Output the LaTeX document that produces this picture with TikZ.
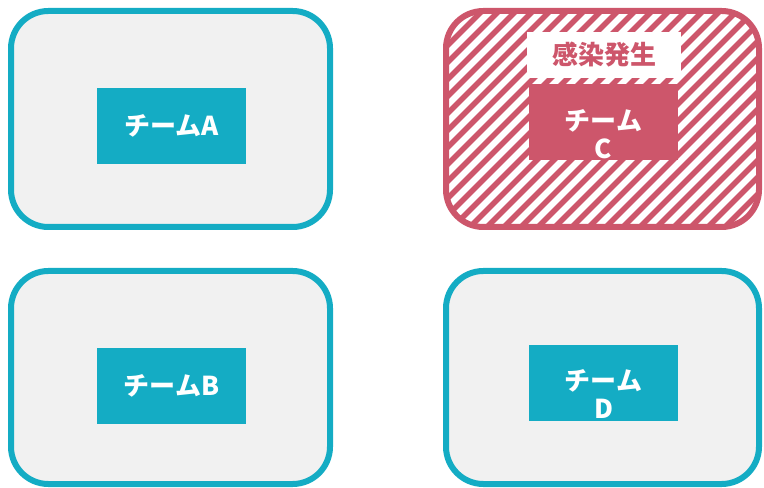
\documentclass[tikz,border=0pt]{standalone}
\usepackage{fontspec}
\setmainfont{Noto Sans CJK JP}
\definecolor{teal1}{HTML}{14ACC4}
\definecolor{pink1}{HTML}{CD566B}
\definecolor{bg1}{HTML}{F1F1F1}
\tikzset{
  frame/.style={line width=4.5pt, rounded corners=28pt},
  teambox/.style={fill=teal1, text=white, font=\bfseries\fontsize{19.5}{21}\selectfont,
    minimum width=111.75pt, minimum height=57pt, inner sep=0pt, align=center},
  alertbox/.style={teambox, fill=pink1},
  teamtext/.style={text=white, font=\bfseries\fontsize{19.5}{21}\selectfont,
    inner sep=0pt, align=center},
  labelbox/.style={fill=white, text=pink1, font=\bfseries\fontsize{19.5}{21}\selectfont,
    minimum width=115.5pt, minimum height=34.5pt, inner sep=0pt},
  stripe/.style={pink1, line width=4.1pt}
}
\begin{document}
\begin{tikzpicture}[x=0.75pt,y=-0.75pt]
\useasboundingbox (0,0) rectangle (764,488);
% Team A
\draw[frame, draw=teal1, fill=bg1] (11,11) rectangle (330,227);
\node[teambox] (a) at (171.5,126) {チームA};
% Team B
\draw[frame, draw=teal1, fill=bg1] (11,271) rectangle (330,484);
\node[teambox] (b) at (171.5,385.5) {チームB};
% Team C (infected)
\begin{scope}
  \clip[rounded corners=28pt] (446,11) rectangle (759,227);
  \foreach \s in {180,197,...,790} {
    \draw[stripe] (\s,245) -- (\s+250,-5);
  }
\end{scope}
\draw[frame, draw=pink1] (446,11) rectangle (759,227);
\node[labelbox] (lbl) at (604,55) {感染発生};
\node[alertbox] (c) at (603.5,122.5) {};
\node[teamtext] (ct) at (603.5,134) {チーム\\C};
% Team D
\draw[frame, draw=teal1, fill=bg1] (446,271) rectangle (759,484);
\node[teambox] (d) at (603.5,383) {};
\node[teamtext] (dt) at (603.5,394) {チーム\\D};
\end{tikzpicture}
\end{document}
